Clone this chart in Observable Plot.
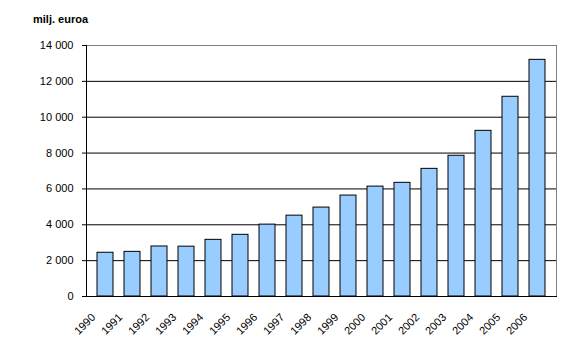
<!DOCTYPE html>
<html><head><meta charset="utf-8">
<script src="https://cdn.jsdelivr.net/npm/d3@7"></script>
<script src="https://cdn.jsdelivr.net/npm/@observablehq/plot@0.6"></script>
<style>
body{margin:0;background:#fff;}
#wrap{position:relative;width:571px;height:357px;font-family:"Liberation Sans",Arial,sans-serif;}
#title{position:absolute;left:33px;top:14px;font-size:11px;font-weight:bold;line-height:1;}
#wrap svg{position:absolute;left:0;top:0;}
</style></head><body>
<div id="wrap"><div id="title">milj. euroa</div></div>
<script>
const years = ["1990","1991","1992","1993","1994","1995","1996","1997","1998","1999","2000","2001","2002","2003","2004","2005","2006"];
const values = [2440,2490,2790,2780,3160,3440,4010,4510,4960,5630,6130,6340,7120,7850,9240,11140,13200];
const yTicks = [0,2000,4000,6000,8000,10000,12000,14000];
const yTickLabels = ["0","2 000","4 000","6 000","8 000","10 000","12 000","14 000"];
const data = years.map((y,i)=>({year:y,value:values[i]}));
const font = "'Liberation Sans', Arial, sans-serif";
const chart = Plot.plot({
  width:571, height:357,
  marginLeft:86, marginRight:15, marginTop:45, marginBottom:61,
  style:{fontFamily:font, fontSize:"11px", background:"transparent", color:"#000"},
  x:{domain:years, paddingInner:0.42, paddingOuter:0.21, label:null, axis:null},
  y:{domain:[0,14000], label:null, axis:null},
  marks:[
    Plot.ruleY(yTicks.slice(1,-1), {stroke:"#000", strokeWidth:1}),
    Plot.frame({stroke:"#808080"}),
    Plot.barY(data, {x:"year", y:"value", fill:"#99CCFF", stroke:"#000", strokeWidth:1, inset:0}),
    Plot.frame({anchor:"left", stroke:"#000"}),
    Plot.frame({anchor:"bottom", stroke:"#000"}),
    Plot.axisY({ticks:yTicks, tickSize:4, tickPadding:9, label:null, tickFormat:d => yTickLabels[yTicks.indexOf(d)], fontSize:11}),
    Plot.axisX({tickRotate:-45, tickSize:0, tickPadding:19, dx:-12, label:null, fontSize:11})
  ]
});
document.getElementById("wrap").appendChild(chart);
</script>
</body></html>
